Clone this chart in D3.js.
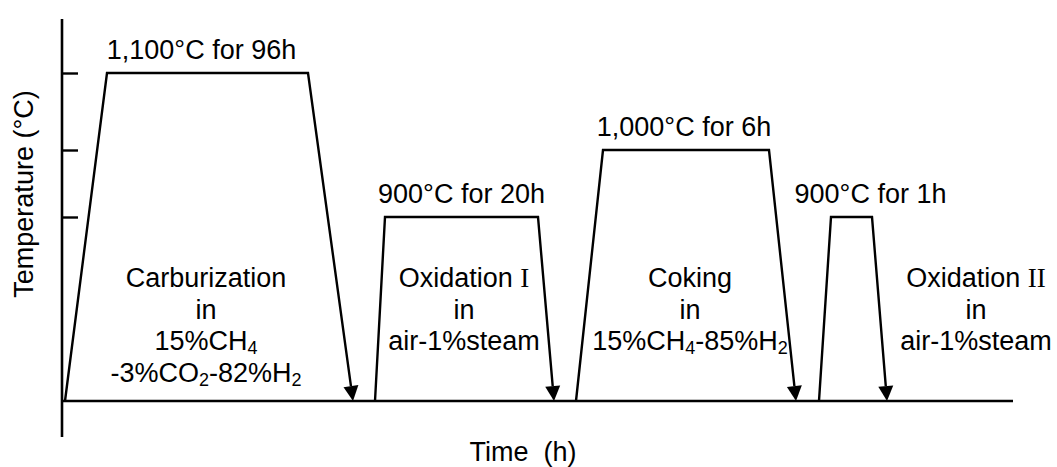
<!DOCTYPE html>
<html>
<head>
<meta charset="utf-8">
<script src="https://cdn.jsdelivr.net/npm/d3@7"></script>
<style>
  html, body { margin: 0; padding: 0; background: #fff; }
  svg { display: block; }
  text { font-family: "Liberation Sans", Arial, sans-serif; fill: #000; }
</style>
</head>
<body>
<svg id="chart" width="1057" height="467"></svg>
<script>
// Heat-treatment schedule: four stages, each a ramp up, an isothermal hold and a cool-down.
// Time runs in schematic units (the axis carries no numbers).
const stages      = ["Carburization", "Oxidation I", "Coking", "Oxidation II"];
const holdTemps   = [1100, 900, 1000, 900];          // °C
const rampStart   = [3, 313, 514, 757];              // heating begins
const holdStart   = [45, 323, 541, 769];             // hold temperature reached
const holdEnd     = [246, 476, 707, 810];            // cooling begins
const coolEnd     = [291, 492, 734, 825];            // back at room temperature
const holdLabels  = ["1,100°C for 96h", "900°C for 20h", "1,000°C for 6h", "900°C for 1h"];
const roomTemp    = 25;
const timeMax     = 951;
const tempTicks   = [900, 1000, 1100];

// Atmosphere descriptions: lines made of [text, isSubscript] pieces.
const atmospheres = [
  [[["Carburization"]], [["in"]], [["15%CH"], ["4", 1]], [["-3%CO"], ["2", 1], ["-82%H"], ["2", 1]]],
  [[["Oxidation "], ["I", "roman"]], [["in"]], [["air-1%steam"]]],
  [[["Coking"]], [["in"]], [["15%CH"], ["4", 1], ["-85%H"], ["2", 1]]],
  [[["Oxidation "], ["II", "roman"]], [["in"]], [["air-1%steam"]]]
];

const svg = d3.select("#chart");

const x = d3.scaleLinear().domain([0, timeMax]).range([62, 1013]);
// Schematic temperature axis (not to scale between room temperature and 900 °C).
const y = d3.scaleLinear().domain([roomTemp, 900, 1000, 1100]).range([401, 217, 150, 73]);

// Y spine, extending past the time axis
svg.append("line")
  .attr("x1", 62).attr("x2", 62)
  .attr("y1", 19).attr("y2", 437)
  .attr("stroke", "#000").attr("stroke-width", 2.6);

// Tick marks on the inside, no labels
const yAxis = svg.append("g")
  .attr("transform", "translate(62,0)")
  .call(d3.axisRight(y).tickValues(tempTicks).tickSize(16).tickFormat(""));
yAxis.select(".domain").remove();
yAxis.selectAll(".tick line").attr("stroke", "#000").attr("stroke-width", 2.4);

// Time axis
svg.append("line")
  .attr("x1", x(0)).attr("x2", x(timeMax))
  .attr("y1", y(roomTemp)).attr("y2", y(roomTemp))
  .attr("stroke", "#000").attr("stroke-width", 2.6);

// Stage profiles
const line = d3.line().x(d => x(d[0])).y(d => y(d[1]));
stages.forEach((s, i) => {
  const pts = [
    [rampStart[i], roomTemp],
    [holdStart[i], holdTemps[i]],
    [holdEnd[i], holdTemps[i]],
    [coolEnd[i], roomTemp]
  ];
  // stop the cooling line at the arrowhead base
  const tip = [x(coolEnd[i]), y(roomTemp)];
  const from = [x(holdEnd[i]), y(holdTemps[i])];
  const dx = tip[0] - from[0], dy = tip[1] - from[1];
  const len = Math.hypot(dx, dy);
  const ux = dx / len, uy = dy / len;
  const headL = 15, headW = 7.5;
  const base = [tip[0] - ux * headL, tip[1] - uy * headL];

  svg.append("path")
    .attr("d", line(pts.slice(0, 3)) + "L" + base[0] + "," + base[1])
    .attr("fill", "none").attr("stroke", "#000")
    .attr("stroke-width", 2.4).attr("stroke-linejoin", "miter");

  svg.append("path")
    .attr("d", "M" + tip[0] + "," + tip[1] +
               "L" + (base[0] - uy * headW) + "," + (base[1] + ux * headW) +
               "L" + (base[0] + uy * headW) + "," + (base[1] - ux * headW) + "Z")
    .attr("fill", "#000");
});

// Hold labels above the plateaus
const holdNudge = [-6, 0, -2, 19];
holdLabels.forEach((t, i) => {
  svg.append("text")
    .attr("x", (x(holdStart[i]) + x(holdEnd[i])) / 2 + holdNudge[i])
    .attr("y", y(holdTemps[i]) - 14)
    .attr("text-anchor", "middle")
    .attr("font-size", 27)
    .text(t);
});

// Atmosphere descriptions
const descCenter = [206, 464, 690, 976];
const descTop = 287, descPitch = 31.5;
atmospheres.forEach((lines, i) => {
  lines.forEach((pieces, j) => {
    const t = svg.append("text")
      .attr("x", descCenter[i])
      .attr("y", descTop + j * descPitch)
      .attr("text-anchor", "middle")
      .attr("font-size", 27);
    let shifted = false;
    pieces.forEach(p => {
      const ts = t.append("tspan").text(p[0]);
      if (p[1] === 1) {
        ts.attr("font-size", 18).attr("dy", shifted ? 0 : 4);
        shifted = true;
      } else {
        if (shifted) { ts.attr("dy", -4); shifted = false; }
        if (p[1] === "roman") ts.attr("font-family", "'Liberation Serif', 'Times New Roman', serif");
      }
    });
  });
});

// Axis titles
svg.append("text")
  .attr("x", 523).attr("y", 461)
  .attr("text-anchor", "middle")
  .attr("font-size", 27)
  .attr("xml:space", "preserve")
  .style("white-space", "pre")
  .text("Time  (h)");

svg.append("text")
  .attr("transform", "translate(33,194) rotate(-90)")
  .attr("text-anchor", "middle")
  .attr("font-size", 27)
  .text("Temperature (°C)");
</script>
</body>
</html>
